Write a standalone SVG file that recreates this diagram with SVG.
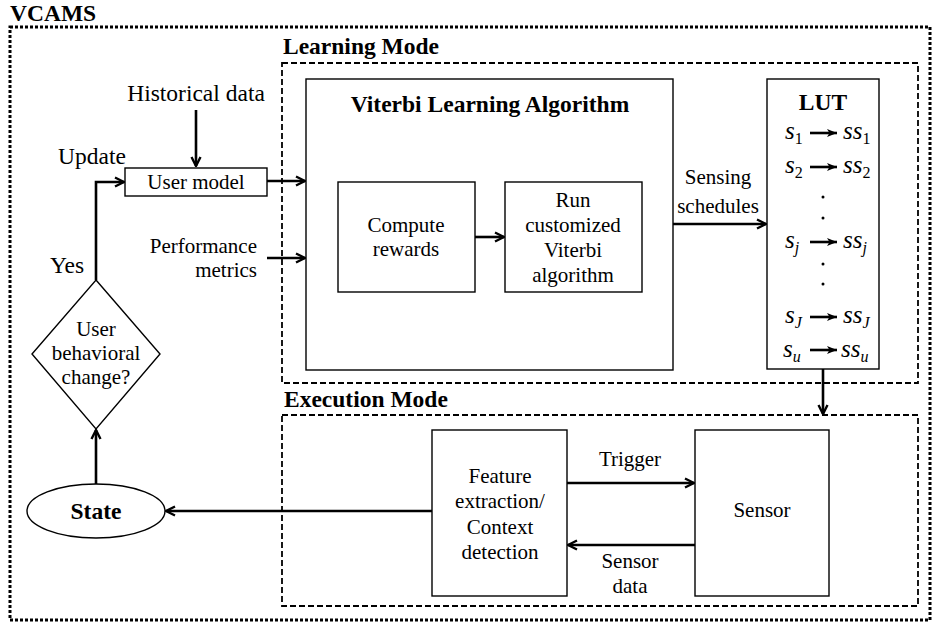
<svg xmlns="http://www.w3.org/2000/svg" width="936" height="628" viewBox="0 0 936 628">
  <defs>
    <marker id="arr" viewBox="0 0 12 12" refX="11" refY="6" markerWidth="12" markerHeight="12" markerUnits="userSpaceOnUse" orient="auto">
      <path d="M2,1.5 L11,6 L2,10.5" fill="none" stroke="#000" stroke-width="2.4"/>
    </marker>
    <marker id="arrs" viewBox="0 0 10 10" refX="10" refY="5" markerWidth="10" markerHeight="10" markerUnits="userSpaceOnUse" orient="auto">
      <path d="M0,1 L10,5 L0,9 L2.5,5 Z" fill="#000"/>
    </marker>
  </defs>
  <style>
    .box{fill:#fff;stroke:#000;stroke-width:1.4}
    .t{font-family:"Liberation Serif","Times New Roman",serif;font-size:21px;fill:#000}
    .lab{font-size:23.5px}
    .b{font-weight:bold;font-size:23.5px}
    .c{text-anchor:middle}
    .e{text-anchor:end}
    .w{fill:none;stroke:#000;stroke-width:2.6}
    .m{font-family:"Liberation Serif","Times New Roman",serif;font-style:italic;font-size:25px;fill:#000}
    .sub{font-size:16px}
    .up{font-style:normal}
    .dot{fill:#000}
  </style>

  <!-- outer system frame -->
  <g id="vcams">
    <rect x="10" y="27" width="920" height="593" fill="none" stroke="#000" stroke-width="3" stroke-dasharray="3 2"/>
    <text class="t b" x="10" y="21">VCAMS</text>
  </g>

  <!-- learning mode region -->
  <g id="learning-mode">
    <rect x="282" y="63" width="636" height="320" fill="none" stroke="#000" stroke-width="1.8" stroke-dasharray="6 3"/>
    <text class="t b" x="283" y="54">Learning Mode</text>
  </g>

  <!-- execution mode region -->
  <g id="execution-mode">
    <rect x="282" y="415" width="636" height="191" fill="none" stroke="#000" stroke-width="1.8" stroke-dasharray="6 3"/>
    <text class="t b" x="284" y="407">Execution Mode</text>
  </g>

  <g id="viterbi">
    <rect class="box" x="306" y="79" width="367" height="291"/>
    <text class="t b c" x="490" y="112">Viterbi Learning Algorithm</text>
  </g>

  <g id="compute-rewards">
    <rect class="box" x="338" y="182" width="137" height="110"/>
    <text class="t c" x="406" y="232">Compute</text>
    <text class="t c" x="406" y="256">rewards</text>
  </g>

  <g id="run-viterbi">
    <rect class="box" x="505" y="182" width="137" height="110"/>
    <text class="t c" x="573" y="207">Run</text>
    <text class="t c" x="573" y="232">customized</text>
    <text class="t c" x="573" y="257">Viterbi</text>
    <text class="t c" x="573" y="282">algorithm</text>
  </g>

  <g id="lut">
    <rect class="box" x="767" y="79" width="112" height="290"/>
    <text class="t b c" x="823" y="110">LUT</text>
    <text class="m" x="785" y="139">s<tspan class="sub up" dy="5">1</tspan></text>
    <text class="m" x="843" y="139">ss<tspan class="sub up" dy="5">1</tspan></text>
    <text class="m" x="785" y="173">s<tspan class="sub up" dy="5">2</tspan></text>
    <text class="m" x="843" y="173">ss<tspan class="sub up" dy="5">2</tspan></text>
    <circle class="dot" cx="823" cy="197" r="1.5"/>
    <circle class="dot" cx="823" cy="218" r="1.5"/>
    <text class="m" x="785" y="248">s<tspan class="sub" dy="5">j</tspan></text>
    <text class="m" x="843" y="248">ss<tspan class="sub" dy="5">j</tspan></text>
    <circle class="dot" cx="823" cy="264" r="1.5"/>
    <circle class="dot" cx="823" cy="284" r="1.5"/>
    <text class="m" x="785" y="323">s<tspan class="sub" dy="5">J</tspan></text>
    <text class="m" x="843" y="323">ss<tspan class="sub" dy="5">J</tspan></text>
    <text class="m" x="783" y="357">s<tspan class="sub" dy="5">u</tspan></text>
    <text class="m" x="841" y="357">ss<tspan class="sub" dy="5">u</tspan></text>
    <g stroke="#000" stroke-width="2.6">
      <line x1="810" y1="133" x2="837" y2="133" marker-end="url(#arrs)"/>
      <line x1="810" y1="167" x2="837" y2="167" marker-end="url(#arrs)"/>
      <line x1="810" y1="242" x2="837" y2="242" marker-end="url(#arrs)"/>
      <line x1="810" y1="317" x2="837" y2="317" marker-end="url(#arrs)"/>
      <line x1="810" y1="350" x2="837" y2="350" marker-end="url(#arrs)"/>
    </g>
  </g>

  <g id="user-model">
    <rect class="box" x="125" y="168" width="142" height="28"/>
    <text class="t c" x="196" y="189">User model</text>
  </g>

  <g id="decision">
    <polygon class="box" points="96,280 160,354 96,429 32,354"/>
    <text class="t c" x="96" y="336">User</text>
    <text class="t c" x="96" y="360">behavioral</text>
    <text class="t c" x="96" y="384">change?</text>
  </g>

  <g id="state">
    <ellipse class="box" cx="96" cy="511" rx="69" ry="27"/>
    <text class="t b c" x="96" y="519">State</text>
  </g>

  <g id="feature-extraction">
    <rect class="box" x="432" y="430" width="135" height="166"/>
    <text class="t c" x="500" y="483">Feature</text>
    <text class="t c" x="500" y="508">extraction/</text>
    <text class="t c" x="500" y="534">Context</text>
    <text class="t c" x="500" y="559">detection</text>
  </g>

  <g id="sensor">
    <rect class="box" x="695" y="430" width="134" height="166"/>
    <text class="t c" x="762" y="517">Sensor</text>
  </g>

  <!-- free-standing inputs -->
  <g id="inputs">
    <text class="t lab c" x="196" y="101">Historical data</text>
    <text class="t e" x="257" y="253">Performance</text>
    <text class="t e" x="257" y="277">metrics</text>
  </g>

  <!-- connectors and their labels -->
  <g id="connectors">
    <path class="w" d="M196,110 V166" marker-end="url(#arr)"/>
    <path class="w" d="M96,280 V182 H124" marker-end="url(#arr)"/>
    <path class="w" d="M267,181 H305" marker-end="url(#arr)"/>
    <path class="w" d="M267,258 H305" marker-end="url(#arr)"/>
    <path class="w" d="M475,237 H504" marker-end="url(#arr)"/>
    <path class="w" d="M673,224 H766" marker-end="url(#arr)"/>
    <path class="w" d="M823,369 V414" marker-end="url(#arr)"/>
    <path class="w" d="M567,483 H694" marker-end="url(#arr)"/>
    <path class="w" d="M695,545 H568" marker-end="url(#arr)"/>
    <path class="w" d="M432,511 H166" marker-end="url(#arr)"/>
    <path class="w" d="M96,484 V430" marker-end="url(#arr)"/>
    <text class="t lab" x="58" y="164">Update</text>
    <text class="t lab" x="50" y="273">Yes</text>
    <text class="t c" x="718" y="184">Sensing</text>
    <text class="t c" x="718" y="213">schedules</text>
    <text class="t c" x="630" y="466">Trigger</text>
    <text class="t c" x="630" y="568">Sensor</text>
    <text class="t c" x="630" y="593">data</text>
  </g>
</svg>
